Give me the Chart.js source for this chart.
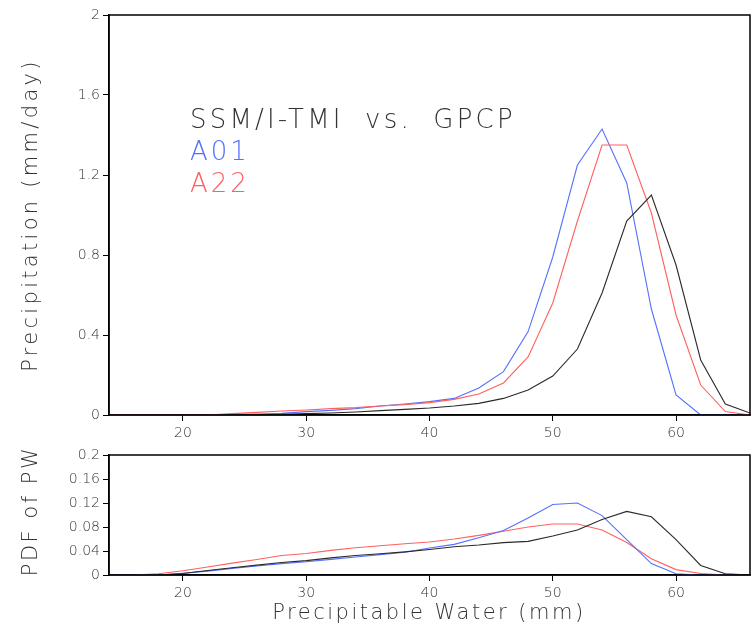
<!DOCTYPE html>
<html>
<head>
<meta charset="utf-8">
<script src="https://cdn.jsdelivr.net/npm/chart.js@4"></script>
<style>
  html, body { margin: 0; padding: 0; background: #fff; }
  #wrap { position: relative; width: 753px; height: 630px; }
  #c1 { position: absolute; left: 0; top: 0; }
  #c2 { position: absolute; left: 0; top: 440px; }
</style>
</head>
<body>
<div id="wrap">
  <canvas id="c1" width="753" height="440"></canvas>
  <canvas id="c2" width="753" height="190"></canvas>
</div>
<script>
// ---------- data ----------
const pw = [14,16,18,20,22,24,26,28,30,32,34,36,38,40,42,44,46,48,50,52,54,56,58,60,62,64,66];

const precipGPCP = [0,0,0,0,0,0.001,0.002,0.003,0.007,0.010,0.015,0.022,0.028,0.035,0.045,0.058,0.083,0.125,0.195,0.33,0.61,0.97,1.10,0.75,0.275,0.055,0.01];
const precipA01  = [0,0,0,0,0,0.003,0.005,0.008,0.017,0.023,0.032,0.045,0.055,0.067,0.083,0.135,0.217,0.417,0.79,1.25,1.43,1.16,0.53,0.10,0,0,0];
const precipA22  = [0,0,0,0,0,0.007,0.013,0.020,0.025,0.032,0.037,0.045,0.052,0.062,0.078,0.105,0.16,0.29,0.56,0.97,1.35,1.35,1.01,0.50,0.15,0.017,0];

const pdfGPCP = [0,0,0,0.0025,0.0075,0.012,0.0164,0.0208,0.024,0.0286,0.0325,0.0353,0.0386,0.0425,0.047,0.050,0.054,0.056,0.065,0.075,0.0925,0.106,0.097,0.059,0.016,0.002,0];
const pdfA01  = [0,0,0,0.003,0.0065,0.011,0.015,0.019,0.022,0.026,0.030,0.034,0.038,0.045,0.051,0.062,0.074,0.095,0.1175,0.120,0.099,0.059,0.019,0.002,0,0,0];
const pdfA22  = [0,0,0.002,0.007,0.0132,0.0198,0.0258,0.0325,0.0358,0.041,0.0453,0.0487,0.052,0.055,0.060,0.066,0.073,0.080,0.085,0.085,0.075,0.054,0.027,0.009,0.0025,0,0];

const xTicks = [20,30,40,50,60];
const yTicksTop = [0,0.4,0.8,1.2,1.6,2];
const yTicksTopLabels = ['0','0.4','0.8','1.2','1.6','2'];
const yTicksBot = [0,0.04,0.08,0.12,0.16,0.2];
const yTicksBotLabels = ['0','0.04','0.08','0.12','0.16','0.2'];

const seriesNames = ['SSM/I-TMI vs. GPCP','A01','A22'];
const colors = ['#2a2a2a','#5570ff','#ff6060'];

// ---------- helpers ----------
const FONT = '"DejaVu Sans", sans-serif';
const TEXT = '#333';

function pts(ys){ return pw.map((x,i)=>({x:x, y:ys[i]})); }

function ds(label, ys, color){
  return { label, data: pts(ys), borderColor: color, backgroundColor: color,
           borderWidth: 1.1, pointRadius: 0, tension: 0, fill: false };
}

const framePlugin = {
  id: 'frame',
  afterDraw(chart){
    const {ctx, chartArea:a} = chart;
    ctx.save();
    ctx.strokeStyle = '#000';
    ctx.lineWidth = 1.5;
    ctx.strokeRect(a.left, a.top, a.right - a.left, a.bottom - a.top);
    ctx.restore();
  }
};

function textPlugin(items){
  return {
    id: 'texts',
    afterDraw(chart){
      const ctx = chart.ctx;
      items.forEach(t => {
        ctx.save();
        ctx.font = t.font;
        ctx.fillStyle = t.color || TEXT;
        ctx.letterSpacing = t.spacing || '0px';
        ctx.wordSpacing = t.wspacing || '0px';
        ctx.textAlign = t.align || 'left';
        ctx.textBaseline = 'middle';
        ctx.translate(t.x, t.y);
        if (t.rot) ctx.rotate(t.rot);
        ctx.fillText(t.text, 0, 0);
        ctx.restore();
      });
    }
  };
}

function makeOptions(yMin, yMax, yVals, yLabels, xHeight){
  return {
    responsive: false,
    animation: false,
    layout: { padding: { top: 15, right: 3, left: 0, bottom: 0 } },
    plugins: { legend: { display: false }, tooltip: { enabled: false } },
    scales: {
      x: {
        type: 'linear', min: 14, max: 66,
        afterBuildTicks: s => { s.ticks = xTicks.map(v => ({value: v})); },
        afterFit: s => { s.height = xHeight; },
        grid: { display: true, drawOnChartArea: false, drawTicks: true, tickLength: 6, color: '#000' },
        border: { display: true, color: '#000', width: 1.5 },
        ticks: { color: TEXT, font: { family: FONT, size: 14, weight: 300 }, padding: 4,
                 maxRotation: 0, callback: v => String(v) }
      },
      y: {
        type: 'linear', min: yMin, max: yMax,
        afterBuildTicks: s => { s.ticks = yVals.map(v => ({value: v})); },
        afterFit: s => { s.width = 109; },
        grid: { display: true, drawOnChartArea: false, drawTicks: true, tickLength: 6, color: '#000' },
        border: { display: true, color: '#000', width: 1.5 },
        ticks: { color: TEXT, font: { family: FONT, size: 14, weight: 300 }, padding: 3,
                 callback: (v) => { const i = yVals.indexOf(v); return i >= 0 ? yLabels[i] : ''; } }
      }
    }
  };
}

// ---------- top chart ----------
new Chart(document.getElementById('c1'), {
  type: 'line',
  data: { datasets: [ ds(seriesNames[0], precipGPCP, colors[0]),
                      ds(seriesNames[2], precipA22, colors[2]),
                      ds(seriesNames[1], precipA01, colors[1]) ] },
  options: makeOptions(0, 2, yTicksTop, yTicksTopLabels, 25),
  plugins: [framePlugin, textPlugin([
    { text: 'Precipitation (mm/day)', x: 32, y: 215, rot: -Math.PI/2, align: 'center',
      font: '300 21px ' + FONT, spacing: '3.3px' },
    { text: seriesNames[0], x: 190, y: 121, font: '300 26px ' + FONT, spacing: '3.2px', wspacing: '10px', color: '#333' },
    { text: seriesNames[1], x: 190, y: 153, font: '300 26px ' + FONT, spacing: '3px', color: colors[1] },
    { text: seriesNames[2], x: 190, y: 185, font: '300 26px ' + FONT, spacing: '3px', color: colors[2] }
  ])]
});

// ---------- bottom chart ----------
new Chart(document.getElementById('c2'), {
  type: 'line',
  data: { datasets: [ ds(seriesNames[0], pdfGPCP, colors[0]),
                      ds(seriesNames[1], pdfA01, colors[1]),
                      ds(seriesNames[2], pdfA22, colors[2]) ] },
  options: makeOptions(0, 0.2, yTicksBot, yTicksBotLabels, 55),
  plugins: [framePlugin, textPlugin([
    { text: 'PDF of PW', x: 32, y: 71, rot: -Math.PI/2, align: 'center',
      font: '300 21px ' + FONT, spacing: '2.5px' },
    { text: 'Precipitable Water (mm)', x: 429, y: 174, align: 'center',
      font: '300 21px ' + FONT, spacing: '2.5px' }
  ])]
});
</script>
</body>
</html>
